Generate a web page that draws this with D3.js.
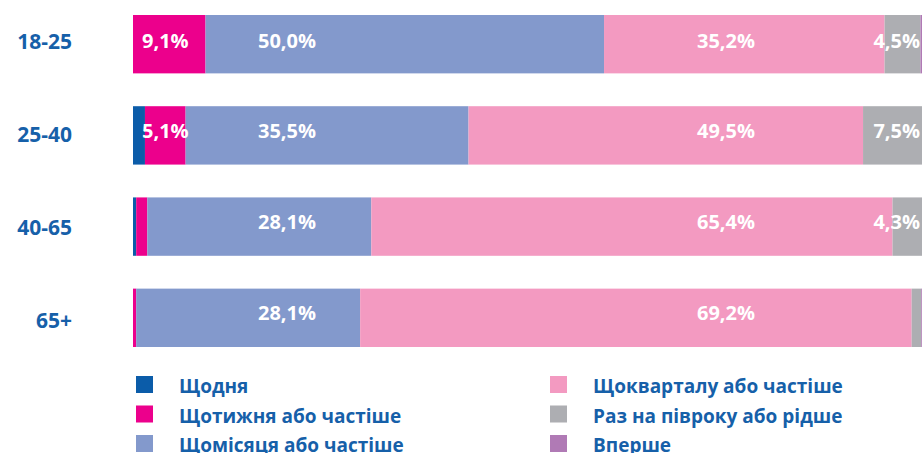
<!DOCTYPE html>
<html>
<head>
<meta charset="utf-8">
<script src="https://cdn.jsdelivr.net/npm/d3@7"></script>
<style>
  body { margin: 0; background: #fff; }
  svg { display: block; font-family: "Open Sans", sans-serif; font-weight: bold; }
</style>
</head>
<body>
<div id="chart"></div>
<script>
// age groups
const groups = ["18-25", "25-40", "40-65", "65+"];

// series names (legend order)
const seriesNames = [
  "Щодня",
  "Щотижня або частіше",
  "Щомісяця або частіше",
  "Щокварталу або частіше",
  "Раз на півроку або рідше",
  "Вперше"
];

// values per series, one per age group (in %)
const daily     = [0.0, 1.5, 0.4, 0.0];
const weekly    = [9.1, 5.1, 1.4, 0.4];
const monthly   = [50.0, 35.5, 28.1, 28.1];
const quarterly = [35.2, 49.5, 65.4, 69.2];
const halfYear  = [4.5, 7.5, 4.3, 1.2];
const firstTime = [0.2, 0.0, 0.0, 0.2];

const colors = ["#0b5ca9", "#ec008c", "#8399cc", "#f39ac1", "#adaeb2", "#b07ab5"];
const textBlue = "#1660a9";

const W = 922, H = 453;

const rows = groups.map((g, i) => ({
  group: g,
  values: [daily[i], weekly[i], monthly[i], quarterly[i], halfYear[i], firstTime[i]]
}));

const svg = d3.select("#chart").append("svg")
  .attr("width", W).attr("height", H);

const x = d3.scaleLinear().domain([0, 100]).range([133, 930]);
const y = d3.scaleBand().domain(groups).range([15, 347]).paddingInner(0.36);
// category and value labels sit on their own pitch, as in the original
const yLab = d3.scalePoint().domain(groups).range([41, 320]);
const yVal = d3.scalePoint().domain(groups).range([40.5, 312.5]);

// bars
const rowG = svg.selectAll("g.row").data(rows).join("g")
  .attr("class", "row");

rowG.each(function(d) {
  let acc = 0;
  const segs = d.values.map((v, k) => {
    const s = { k, v, x0: acc, x1: acc + v };
    acc += v;
    return s;
  });
  d3.select(this).selectAll("rect").data(segs).join("rect")
    .attr("x", s => x(s.x0))
    .attr("width", s => Math.max(0, x(s.x1) - x(s.x0)))
    .attr("y", y(d.group))
    .attr("height", y.bandwidth())
    .attr("fill", s => colors[s.k]);

  // value labels, placed in fixed columns like the original
  const fmt = v => v.toFixed(1).replace(".", ",") + "%";
  const labelPos = {
    1: { x: x(0) + 9, anchor: "start" },
    2: { x: 316, anchor: "end" },
    3: { x: 726, anchor: "middle" },
    4: { x: 920, anchor: "end" }
  };
  d3.select(this).selectAll("text").data(segs.filter(s => s.v >= 3 && labelPos[s.k])).join("text")
    .attr("x", s => labelPos[s.k].x)
    .attr("y", yVal(d.group) + 7)
    .attr("text-anchor", s => labelPos[s.k].anchor)
    .attr("fill", "#fff")
    .attr("font-size", 20)
    .text(s => fmt(s.v));
});

// category labels
svg.selectAll("text.cat").data(groups).join("text")
  .attr("class", "cat")
  .attr("x", 72)
  .attr("y", d => yLab(d) + 7.5)
  .attr("text-anchor", "end")
  .attr("fill", textBlue)
  .attr("font-size", 21)
  .text(d => d);

// legend
const legend = svg.append("g");
const leg = legend.selectAll("g").data(seriesNames).join("g")
  .attr("transform", (d, i) => `translate(${i < 3 ? 136 : 550},${376 + (i % 3) * 29.5})`);
leg.append("rect")
  .attr("width", 17).attr("height", 17)
  .attr("fill", (d, i) => colors[i]);
leg.append("text")
  .attr("x", 43)
  .attr("y", 17)
  .attr("fill", textBlue)
  .attr("font-size", 19)
  .text(d => d);
</script>
</body>
</html>
